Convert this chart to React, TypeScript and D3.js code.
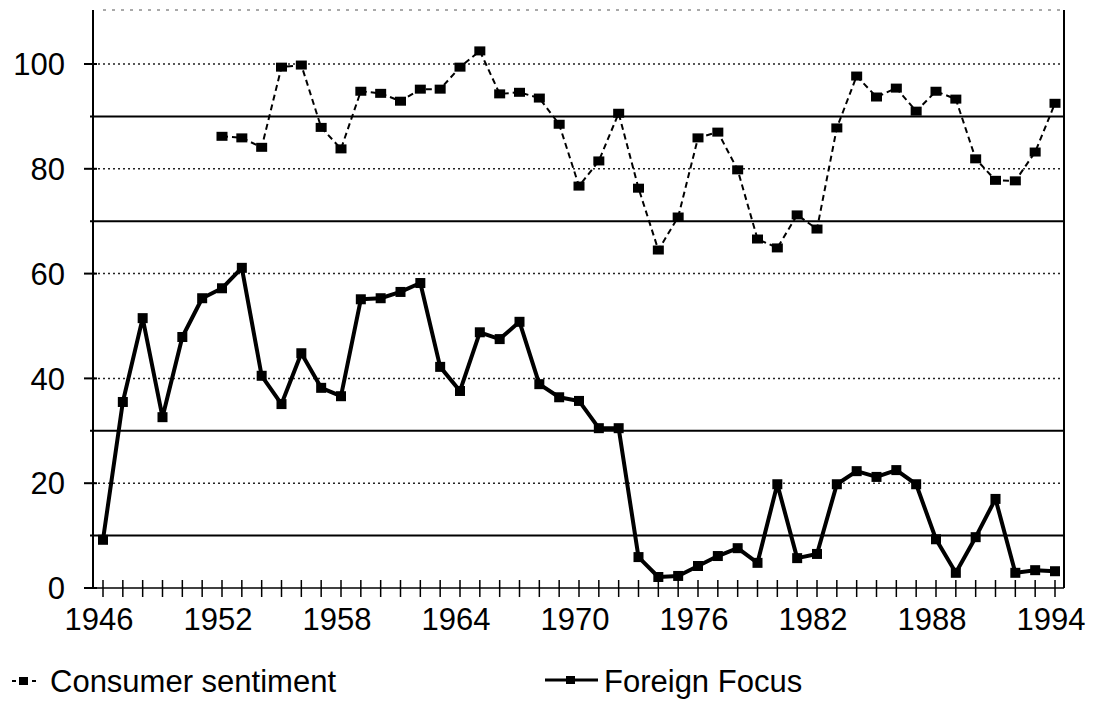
import * as d3 from "d3";
import React from "react";

// years on the x axis
const years = d3.range(1946, 1995);
const tickYears = [1946, 1952, 1958, 1964, 1970, 1976, 1982, 1988, 1994];
const yTicks = [0, 20, 40, 60, 80, 100];
const dottedGrid = [20, 40, 60, 80, 100];
const solidGrid = [10, 30, 70, 90];

// Consumer sentiment, 1952-1994
const sentimentYears = d3.range(1952, 1995);
const sentiment = [
  86.2, 85.9, 84.1, 99.4, 99.8, 87.9, 83.8, 94.8, 94.4, 92.9,
  95.2, 95.2, 99.4, 102.5, 94.3, 94.6, 93.5, 88.5, 76.7, 81.5,
  90.6, 76.3, 64.5, 70.8, 85.9, 87.0, 79.8, 66.6, 64.9, 71.2,
  68.5, 87.8, 97.7, 93.7, 95.4, 91.0, 94.8, 93.3, 81.9, 77.8,
  77.7, 83.2, 92.5
];

// Foreign Focus, 1946-1994
const foreign = [
  9.2, 35.5, 51.5, 32.6, 47.9, 55.3, 57.2, 61.1, 40.5, 35.1,
  44.8, 38.2, 36.6, 55.1, 55.3, 56.5, 58.2, 42.2, 37.6, 48.8,
  47.5, 50.8, 38.9, 36.4, 35.7, 30.5, 30.5, 5.9, 2.1, 2.3,
  4.2, 6.1, 7.6, 4.8, 19.8, 5.7, 6.5, 19.8, 22.3, 21.2,
  22.5, 19.8, 9.3, 2.9, 9.7, 17.0, 2.9, 3.4, 3.2
];

export default function App() {
  const width = 1093;
  const height = 727;
  const left = 93;
  const right = 1064;
  const top = 10;

  const x = d3.scaleLinear().domain([1946, 1994]).range([103, 1055]);
  const y = d3.scaleLinear().domain([0, 100]).range([588, 64]);

  const line = d3
    .line<[number, number]>()
    .x((d) => x(d[0]))
    .y((d) => y(d[1]));

  const sentPts: [number, number][] = sentimentYears.map((yr, i) => [yr, sentiment[i]]);
  const forPts: [number, number][] = years.map((yr, i) => [yr, foreign[i]]);

  const font = "'Liberation Sans', Arial, sans-serif";

  return (
    <svg
      width={width}
      height={height}
      style={{ position: "absolute", left: 0, top: 0, background: "#fff" }}
      fontFamily={font}
    >
      {/* grid */}
      {dottedGrid.map((v) => (
        <line
          key={"d" + v}
          x1={left}
          x2={right}
          y1={y(v)}
          y2={y(v)}
          stroke="#222"
          strokeWidth={1.5}
          strokeDasharray="2,3"
        />
      ))}
      {solidGrid.map((v) => (
        <line key={"s" + v} x1={left - 3} x2={right} y1={y(v)} y2={y(v)} stroke="#000" strokeWidth={2} />
      ))}
      <line x1={left + 10} x2={right} y1={top} y2={top} stroke="#555" strokeWidth={1} strokeDasharray="3,6" />

      {/* axes */}
      <line x1={left} x2={left} y1={top} y2={y(0)} stroke="#000" strokeWidth={2} />
      <line x1={right} x2={right} y1={top} y2={y(0)} stroke="#000" strokeWidth={2} />
      <line x1={left} x2={right} y1={y(0)} y2={y(0)} stroke="#000" strokeWidth={1.5} />
      {yTicks.map((v) => (
        <g key={"yt" + v}>
          <line x1={left - 9} x2={left + 4} y1={y(v)} y2={y(v)} stroke="#000" strokeWidth={2} />
          <text x={65} y={y(v)} dy="0.36em" fontSize={31} textAnchor="end" fill="#000">
            {v}
          </text>
        </g>
      ))}
      {years.map((yr) => (
        <line key={"xt" + yr} x1={x(yr)} x2={x(yr)} y1={y(0) - 8} y2={y(0) + 9} stroke="#000" strokeWidth={1.5} />
      ))}
      {tickYears.map((yr) => (
        <text key={"xl" + yr} x={x(yr) - 4} y={630} fontSize={31} textAnchor="middle" fill="#000">
          {yr}
        </text>
      ))}

      {/* consumer sentiment */}
      <path d={line(sentPts) || ""} fill="none" stroke="#000" strokeWidth={2} strokeDasharray="6,4" />
      {sentPts.map((p) => (
        <rect key={"sp" + p[0]} x={x(p[0]) - 5.5} y={y(p[1]) - 4.5} width={11} height={9} fill="#000" />
      ))}

      {/* foreign focus */}
      <path d={line(forPts) || ""} fill="none" stroke="#000" strokeWidth={4} strokeLinejoin="round" />
      {forPts.map((p) => (
        <rect key={"fp" + p[0]} x={x(p[0]) - 5} y={y(p[1]) - 5} width={10} height={10} fill="#000" />
      ))}

      {/* legend */}
      <line x1={12} x2={40} y1={681} y2={681} stroke="#000" strokeWidth={2} strokeDasharray="4,6" />
      <rect x={19} y={677} width={9} height={8} fill="#000" />
      <text x={50} y={692} fontSize={31} fill="#000">
        Consumer sentiment
      </text>
      <line x1={545} x2={598} y1={680} y2={680} stroke="#000" strokeWidth={3} />
      <rect x={566} y={676} width={9} height={8} fill="#000" />
      <text x={604} y={692} fontSize={31} fill="#000">
        Foreign Focus
      </text>
    </svg>
  );
}
